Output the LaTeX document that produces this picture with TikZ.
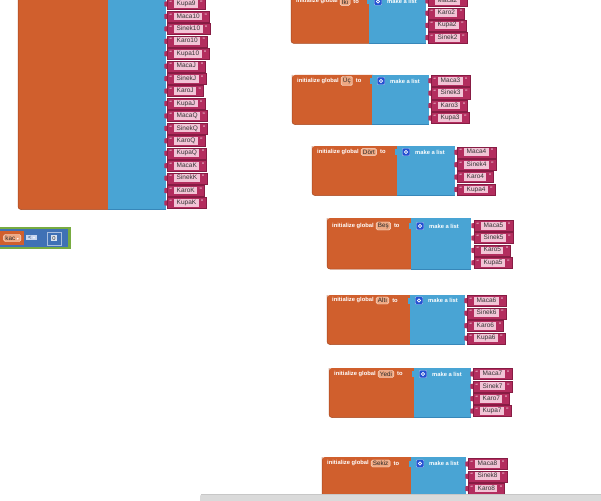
\documentclass[tikz,border=0pt]{standalone}
\usepackage{fontspec}
\setmainfont{Liberation Sans}
\newfontfamily\dejavu{DejaVu Sans}
\usetikzlibrary{calc,positioning}
\definecolor{varc}{RGB}{208,95,45}
\definecolor{varb}{RGB}{165,72,32}
\definecolor{listc}{RGB}{73,164,212}
\definecolor{listb}{RGB}{55,135,185}
\definecolor{strc}{RGB}{179,45,94}
\definecolor{strb}{RGB}{135,28,68}
\definecolor{pinkc}{RGB}{242,196,214}
\definecolor{namec}{RGB}{238,168,130}
\definecolor{gearc}{RGB}{35,80,210}
\definecolor{logicc}{RGB}{119,171,65}
\definecolor{mathc}{RGB}{63,113,181}
\definecolor{ltblue}{RGB}{200,215,240}
\definecolor{barc}{RGB}{218,218,218}
\setlength{\fboxsep}{0.9pt}
\tikzset{
  x=1pt, y=-1pt,
  hdr/.style={font=\fontsize{5.8}{6.5}\selectfont\bfseries, text=white, inner sep=0pt, anchor=west},
  namebox/.style={font=\fontsize{6.3}{7}\selectfont, text=black!85, fill=namec, draw=white!70!namec, line width=0.4pt, rounded corners=1.5pt, inner xsep=1.8pt, inner ysep=1.2pt, anchor=west},
  strnode/.style={fill=strc, draw=strb, line width=0.3pt, minimum height=11pt, inner xsep=2.5pt, inner ysep=0pt, anchor=west, font=\fontsize{6.5}{7}\selectfont},
  gearbox/.style={fill=gearc, draw=white!60!gearc, line width=0.4pt, rounded corners=1pt, minimum size=7.5pt, inner sep=0pt},
}
\newcommand\strinner[1]{\textcolor{white}{``}\hspace{2.5pt}\colorbox{pinkc}{\hspace{1.5pt}\textcolor{black!80}{\vphantom{Mg}#1}\hspace{1.5pt}}\hspace{2.5pt}\textcolor{white}{''}\hspace{2pt}}
\newcommand\sblk[4]{%
  \fill[strc] ({#2+0.5},{#3-2.8}) -- ({#2-2.6},{#3-2.2}) -- ({#2-2.6},{#3+2.2}) -- ({#2+0.5},{#3+2.8}) -- cycle;
  \node[strnode] (#1) at ({#2},{#3}) {\strinner{#4}};
}
\newcommand\vblk[8]{%
  \fill[varc, rounded corners=3pt] ({#2},{#3}) rectangle ({#4+4},{#6});
  \fill[listc] ({#4},{#3}) rectangle ({#5},{#6});
  \draw[varb, line width=0.5pt, rounded corners=3pt] ({#2},{#3}) -- ({#2},{#6}) -- ({#4},{#6});
  \draw[listb, line width=0.5pt] ({#4},{#6}) -- ({#5},{#6});
  \node[hdr] (#1i) at ({#2+5},{#7}) {initialize global};
  \node[namebox, right=2pt of #1i] (#1n) {#8};
  \node[hdr, right=3pt of #1n] (#1t) {to};
  \fill[listc] ({#4-2.5},{#7-3}) rectangle ({#4+0.1},{#7+3});
  \node[gearbox] (#1g) at ({#4+9},{#7}) {};
  \draw[white, line width=0.7pt] (#1g.center) circle (1.6pt);
  \node[hdr, right=5pt of #1g] (#1m) {make a list};
}
\newcommand\slist[5]{% prefix, x, y0, dy, labels
  \foreach \lab [count=\i] in {#5} {%
    \pgfmathsetmacro\yy{#3+(\i-1)*#4}%
    \sblk{#1\i}{#2}{\yy}{\lab}%
  }%
}
\begin{document}
\begin{tikzpicture}
\useasboundingbox (0,0) rectangle (601,500);
\clip (0,0) rectangle (601,500);
\fill[white] (0,0) rectangle (601,500);

% block 1 (top left)
\fill[varc, rounded corners=3pt] (18,-10) rectangle (112,209.5);
\fill[listc] (108,-10) rectangle (166,209.5);
\draw[varb, line width=0.5pt, rounded corners=3pt] (18,-10) -- (18,209.5) -- (108,209.5);
\draw[listb, line width=0.5pt] (108,209.5) -- (166,209.5);
\slist{a}{167}{4}{12.44}{Kupa9,Maca10,Sinek10,Karo10,Kupa10,MacaJ,SinekJ,KaroJ,KupaJ,MacaQ,SinekQ,KaroQ,KupaQ,MacaK,SinekK,KaroK,KupaK}

% block 2 (Iki)
\vblk{b}{291}{-6}{369}{426}{43.5}{1.5}{İki}
\slist{b}{428}{1}{12.2}{Maca2,Karo2,Kupa2,Sinek2}

% block 3 (Uc)
\vblk{c}{292}{75}{372}{429}{124.5}{81}{Üç}
\slist{c}{431}{80.7}{12.45}{Maca3,Sinek3,Karo3,Kupa3}

% block 4 (Dort)
\vblk{d}{312}{146}{397}{455}{195.5}{152}{Dört}
\slist{d}{457}{152.3}{12.4}{Maca4,Sinek4,Karo4,Kupa4}

% block 5 (Bes)
\vblk{e}{327}{218}{411}{471}{269}{226}{Beş}
\slist{e}{474}{225.7}{12.35}{Maca5,Sinek5,Karo5,Kupa5}

% block 6 (Alti)
\vblk{f}{327}{295}{410}{465}{344.5}{300.5}{Altı}
\slist{f}{467}{300.7}{12.5}{Maca6,Sinek6,Karo6,Kupa6}

% block 7 (Yedi)
\vblk{g}{329}{368}{414}{471}{417.5}{374}{Yedi}
\slist{g}{473}{374}{12.35}{Maca7,Sinek7,Karo7,Kupa7}

% block 8 (Sekiz)
\vblk{h}{322}{457}{411}{466}{510}{463.5}{Sekiz}
\slist{h}{468}{464}{12.3}{Maca8,Sinek8,Karo8}

% left compare block
\fill[logicc] (-5,226.5) rectangle (70.5,249);
\fill[mathc] (-5,229) rectangle (67.5,246.5);
\fill[varc] (-5,231) rectangle (24,245);
\node[namebox, anchor=east] (kac) at (21,238) {kac {\dejavu\fontsize{4}{4}\selectfont\textcolor{white}{▾}}};
\node[fill=ltblue, inner xsep=2pt, inner ysep=1pt, font=\fontsize{5.8}{6.5}\selectfont, text=mathc!60!black, anchor=west] (lt) at (26,237.5) {< {\dejavu\fontsize{4}{4}\selectfont\textcolor{white}{▾}}};
\node[fill=mathc, draw=white!55!mathc, line width=0.5pt, minimum width=14pt, minimum height=13pt, inner sep=0pt] (num) at (54,238.3) {};
\node[fill=white!80!mathc, inner xsep=1.2pt, inner ysep=0.8pt, font=\fontsize{5.8}{6.5}\selectfont, text=black!80] (zero) at (num.center) {0};

% scrollbar
\fill[barc, rounded corners=2pt] (200,494.5) rectangle (605,505);
\draw[black!22, line width=0.4pt] (201,494.5) -- (601,494.5);
\end{tikzpicture}
\end{document}
